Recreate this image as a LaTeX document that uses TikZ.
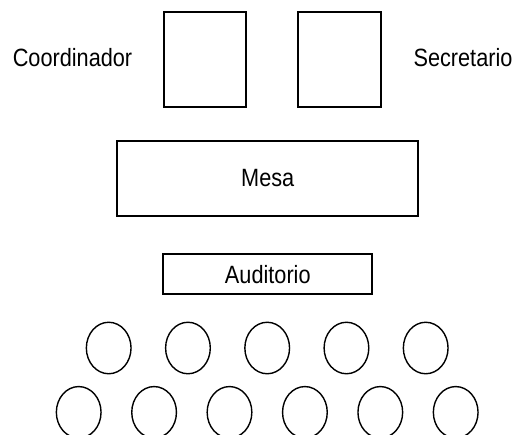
\documentclass[tikz,border=0pt]{standalone}
\usepackage{fontspec}
\setmainfont{Liberation Sans}
\usetikzlibrary{positioning}

\begin{document}
\begin{tikzpicture}[
    x = 1pt, y = -1pt,
    every node/.style = {font = \fontsize{25}{30}\selectfont, xscale = 0.868},
    silla/.style = {draw, line width = 2pt, minimum width = 95pt, minimum height = 95pt, inner sep = 0pt},
    mesa/.style = {draw, line width = 2pt, minimum width = 347pt, minimum height = 75pt},
    aud/.style = {draw, line width = 2pt, minimum width = 241pt, minimum height = 40pt},
    asiento/.style = {draw, circle, line width = 1.4pt, minimum size = 51.5pt, inner sep = 0pt},
]
\useasboundingbox (0,0) rectangle (526,434);
\clip (0,0) rectangle (526,434);

% mesa directiva
\node[silla] (coord) at (205,59) {};
\node[silla] (secr) at (339.7,59) {};
\node[anchor = base] (tcoord) at (72.5,66) {Coordinador};
\node[anchor = base] (tsecr) at (463,66) {Secretario};
\node[mesa] (mesa) at (267.7,178.3) {Mesa};

% publico
\node[aud] (auditorio) at (267.8,274.3) {Auditorio};
\foreach \i in {0,...,4}
    \node[asiento] (filaA-\i) at (108.7+79.25*\i, 348) {};
\foreach \i in {0,...,5}
    \node[asiento] (filaB-\i) at (78.7+75.4*\i, 412.3) {};

\end{tikzpicture}
\end{document}
